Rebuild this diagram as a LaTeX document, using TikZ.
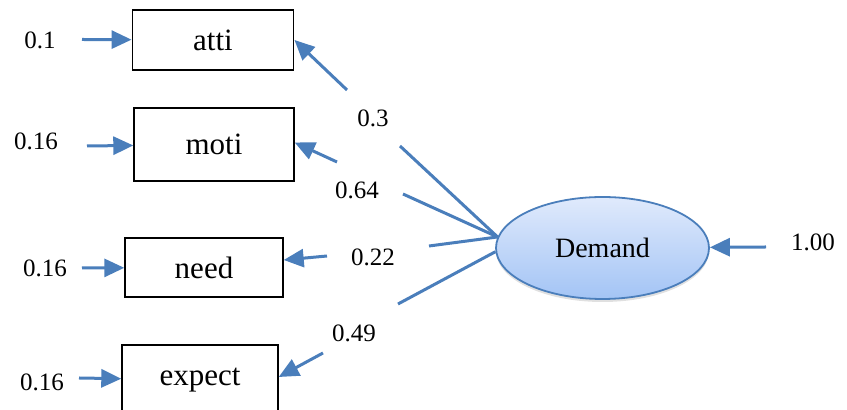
\documentclass[tikz,border=0pt]{standalone}
\usepackage{fontspec}
\setmainfont{Liberation Serif}
\usetikzlibrary{arrows.meta,shapes.geometric,shadows}
\definecolor{pathblue}{RGB}{74,126,187}
\definecolor{latlight}{RGB}{224,234,252}
\definecolor{latdark}{RGB}{163,196,245}

\begin{document}
\begin{tikzpicture}[x=0.5pt,y=-0.5pt,
    obs/.style={shape=rectangle, draw=black, line width=0.7pt, font=\fontsize{15.5}{18}\selectfont},
    lat/.style={shape=ellipse, draw=pathblue, line width=0.9pt, top color=latlight, bottom color=latdark,
        drop shadow={shadow xshift=0pt, shadow yshift=-1.5pt, opacity=0.12, fill=black},
        minimum width=106.5pt, minimum height=51pt, inner sep=0pt, font=\fontsize{14}{16}\selectfont},
    num/.style={font=\fontsize{12.5}{15}\selectfont},
    link/.style={draw=pathblue, line width=1.5pt},
    arr/.style={link, -{Triangle[length=10pt,width=9pt]}}]
    \clip (0,0) rectangle (847,410);

    % indicators
    \node[obs, minimum width=80.75pt, minimum height=30pt] (atti) at (213,40) {atti};
    \node[obs, minimum width=80pt, minimum height=36.5pt] (moti) at (214,144.5) {moti};
    \node[obs, minimum width=79pt, minimum height=29.5pt] (need) at (204,267.5) {need};
    \node[obs, minimum width=78pt, minimum height=35pt] (expect) at (200,380) {expect};

    % latent factor
    \node[lat] (dem) at (602.5,248) {Demand};

    % error terms
    \node[num] (e1) at (40,40) {0.1};
    \node[num] (e2) at (36,141) {0.16};
    \node[num] (e3) at (45,268) {0.16};
    \node[num] (e4) at (42,382) {0.16};
    \node[num] (e5) at (813,242) {1.00};

    \coordinate (s1) at (82,39.5);
    \coordinate (s2) at (87,146);
    \coordinate (s3) at (82,268);
    \coordinate (s4) at (79,378);
    \coordinate (s5) at (766,247);

    \draw [arr](s1) -- (atti);
    \draw [arr](s2) -- (moti);
    \draw [arr](s3) -- (need);
    \draw [arr](s4) -- (expect);
    \draw [arr](s5) -- (dem);

    % loadings
    \node[num] (p1) at (373,118) {0.3};
    \node[num] (p2) at (357,190) {0.64};
    \node[num] (p3) at (373,257) {0.22};
    \node[num] (p4) at (354,333) {0.49};

    \coordinate (b1) at (400,146);
    \coordinate (a1) at (347,90);
    \coordinate (b2) at (403,194);
    \coordinate (a2) at (337,162);
    \coordinate (b3) at (429,246);
    \coordinate (a3) at (327,256);
    \coordinate (b4) at (398,304);
    \coordinate (a4) at (323,353);

    \draw [link](dem.174) -- (b1);
    \draw [link](dem.174) -- (b2);
    \draw [link](dem.174) -- (b3);
    \draw [link](dem.182) -- (b4);
    \draw [arr](a1) -- (atti.east);
    \draw [arr](a2) -- ([yshift=1pt]moti.east);
    \draw [arr](a3) -- ([yshift=3.75pt]need.east);
    \draw [arr](a4) -- ([yshift=1.5pt]expect.east);

\end{tikzpicture}
\end{document}
